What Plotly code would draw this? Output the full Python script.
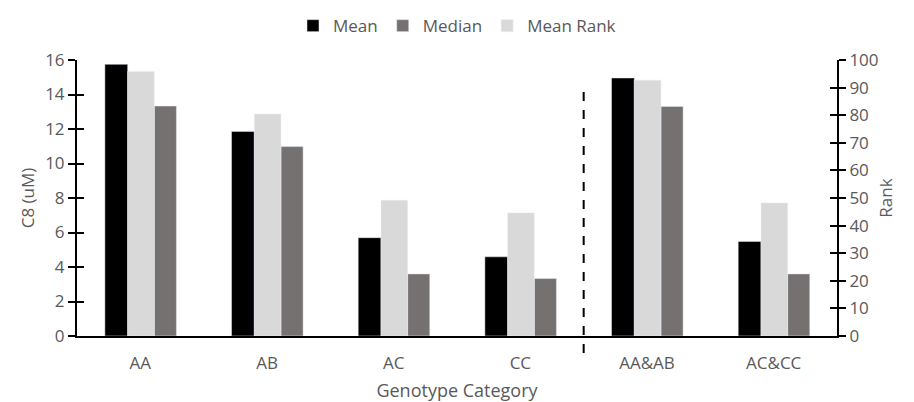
import plotly.graph_objects as go

categories = ["AA", "AB", "AC", "CC", "AA&AB", "AC&CC"]
mean_vals = [15.75, 11.86, 5.70, 4.59, 14.96, 5.48]
median_vals = [13.33, 10.98, 3.60, 3.33, 13.31, 3.60]
mean_rank_vals = [95.8, 80.4, 49.2, 44.6, 92.7, 48.2]

y_ticks = [0, 2, 4, 6, 8, 10, 12, 14, 16]
y2_ticks = [0, 10, 20, 30, 40, 50, 60, 70, 80, 90, 100]

FONT = "Open Sans"
GRAY_TXT = "#595959"

fig = go.Figure()
fig.add_trace(go.Bar(x=categories, y=mean_vals, name="Mean", marker_color="#000000",
                     width=0.18, offset=-0.28, yaxis="y"))
fig.add_trace(go.Bar(x=categories, y=median_vals, name="Median", marker_color="#767171",
                     width=0.175, offset=0.11, yaxis="y"))
fig.add_trace(go.Bar(x=categories, y=mean_rank_vals, name="Mean Rank", marker_color="#d9d9d9",
                     width=0.21, offset=-0.10, yaxis="y2"))
# helper traces so that the tick-only overlay axes are drawn
for ax in ["y3", "y4"]:
    fig.add_trace(go.Scatter(x=[categories[0]], y=[None], yaxis=ax, showlegend=False, hoverinfo="skip"))

fig.update_layout(
    width=906, height=394,
    margin=dict(l=69, r=77, t=52, b=66, autoexpand=False),
    plot_bgcolor="white", paper_bgcolor="white",
    font=dict(family=FONT, size=17, color=GRAY_TXT),
    barmode="overlay",
    showlegend=True,
    legend=dict(orientation="h", x=0.5, xanchor="center", y=1.188, yanchor="top",
                font=dict(size=17, color=GRAY_TXT), traceorder="normal", itemwidth=30),
    xaxis=dict(showline=True, linecolor="black", linewidth=2, ticks="", showgrid=False,
               ticklabelstandoff=11,
               title=dict(text="Genotype Category", standoff=15, font=dict(size=18)),
               range=[-0.5, 5.5], tickfont=dict(size=17)),
    yaxis=dict(range=[0, 16], tickvals=y_ticks, showline=True, linecolor="black", linewidth=2,
               ticks="outside", ticklen=7, tickwidth=2, tickcolor="black", showgrid=False,
               zeroline=False, tickfont=dict(size=17),
               title=dict(text="C8 (uM)", standoff=6, font=dict(size=17))),
    yaxis2=dict(range=[0, 100], tickvals=y2_ticks, overlaying="y", side="right",
                showline=True, linecolor="black", linewidth=2,
                ticks="outside", ticklen=7, tickwidth=2, tickcolor="black", showgrid=False,
                zeroline=False, tickfont=dict(size=17), tickprefix="\u00a0\u00a0",
                title=dict(text="Rank", standoff=3, font=dict(size=17))),
    yaxis3=dict(range=[0, 16], tickvals=y_ticks, overlaying="y", side="left",
                ticks="inside", ticklen=7, tickwidth=2, tickcolor="black",
                showticklabels=False, showgrid=False, zeroline=False, showline=False),
    yaxis4=dict(range=[0, 100], tickvals=y2_ticks, overlaying="y", side="right",
                ticks="inside", ticklen=7, tickwidth=2, tickcolor="black",
                showticklabels=False, showgrid=False, zeroline=False, showline=False),
    shapes=[dict(type="line", xref="x", yref="paper", x0=3.5, x1=3.5, y0=-0.062, y1=0.902,
                 line=dict(color="black", width=2, dash="dash"))],
)

fig.write_html("out.html")
